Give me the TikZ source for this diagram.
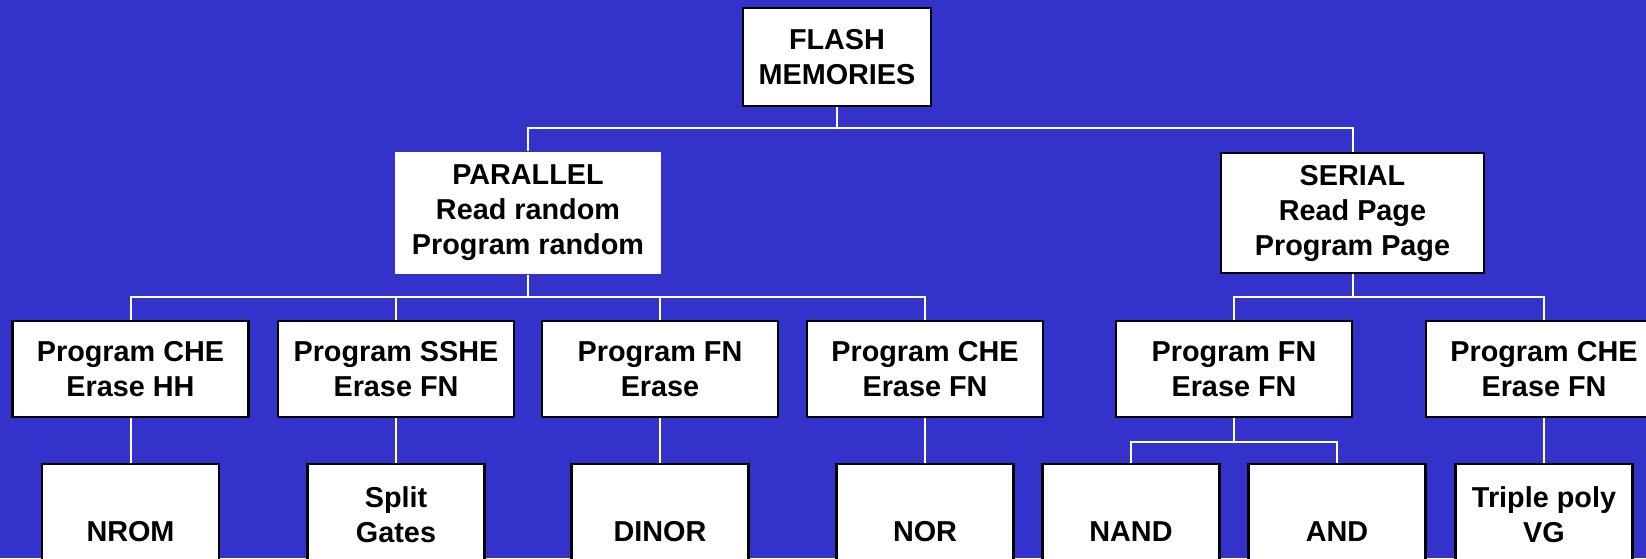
\documentclass[tikz,border=0pt]{standalone}
\usepackage{fontspec}
\setmainfont{Liberation Sans}
\definecolor{bgblue}{RGB}{51,51,204}
\begin{document}
\begin{tikzpicture}[x=0.5pt,y=-0.5pt,
  box/.style={draw=black, line width=1.25pt, fill=white, inner sep=0pt, align=center,
    font=\fontsize{14.4pt}{17.5pt}\selectfont\bfseries},
  lvltwo/.style={minimum width=118pt, minimum height=48pt},
  lvlthree/.style={minimum width=88.5pt, minimum height=50.5pt},
  conn/.style={draw=white, line width=1pt}]
\useasboundingbox (0,0) rectangle (1646,558);
\fill[bgblue] (0,0) rectangle (1646,558);
\clip (0,0) rectangle (1646,558);

\node[box, minimum width=94pt, minimum height=49pt] (flash) at (837,57) {FLASH\\MEMORIES};
\node[box, draw=none, minimum width=133pt, minimum height=61pt] (par) at (528,213) {PARALLEL\\Read random\\Program random};
\node[box, minimum width=131.5pt, minimum height=60pt] (ser) at (1352.5,213) {SERIAL\\Read Page\\Program Page};

\node[box,lvltwo] (p1) at (130.5,369) {Program CHE\\Erase HH};
\node[box,lvltwo] (p2) at (396,369) {Program SSHE\\Erase FN};
\node[box,lvltwo] (p3) at (660,369) {Program FN\\Erase};
\node[box,lvltwo] (p4) at (925,369) {Program CHE\\Erase FN};
\node[box,lvltwo] (s1) at (1234,369) {Program FN\\Erase FN};
\node[box,lvltwo] (s2) at (1544,369) {Program CHE\\Erase FN};

\node[box,lvlthree] (c1) at (130.5,514.5) {\vphantom{N}\\NROM};
\node[box,lvlthree] (c2) at (396,514.5) {Split\\Gates};
\node[box,lvlthree] (c3) at (660,514.5) {\vphantom{N}\\DINOR};
\node[box,lvlthree] (c4) at (925,514.5) {\vphantom{N}\\NOR};
\node[box,lvlthree] (c5) at (1131,514.5) {\vphantom{N}\\NAND};
\node[box,lvlthree] (c6) at (1337,514.5) {\vphantom{N}\\AND};
\node[box,lvlthree] (c7) at (1544,514.5) {Triple poly\\VG};

\coordinate (bA) at (837,128);
\draw[conn] (flash.south) -- (bA);
\draw[conn] (par.north) |- (bA) -| (ser.north);

\coordinate (bB) at (528,297);
\draw[conn] (par.south) -- (bB);
\draw[conn] (p1.north) |- (bB) -| (p4.north);
\draw[conn] (p2.north) -- (p2.north |- bB);
\draw[conn] (p3.north) -- (p3.north |- bB);

\coordinate (bC) at (1352.5,297);
\draw[conn] (ser.south) -- (bC);
\draw[conn] (s1.north) |- (bC) -| (s2.north);

\coordinate (bD) at (1234,442);
\draw[conn] (s1.south) -- (bD);
\draw[conn] (c5.north) |- (bD) -| (c6.north);

\draw[conn] (p1.south) -- (c1.north);
\draw[conn] (p2.south) -- (c2.north);
\draw[conn] (p3.south) -- (c3.north);
\draw[conn] (p4.south) -- (c4.north);
\draw[conn] (s2.south) -- (c7.north);
\end{tikzpicture}
\end{document}
